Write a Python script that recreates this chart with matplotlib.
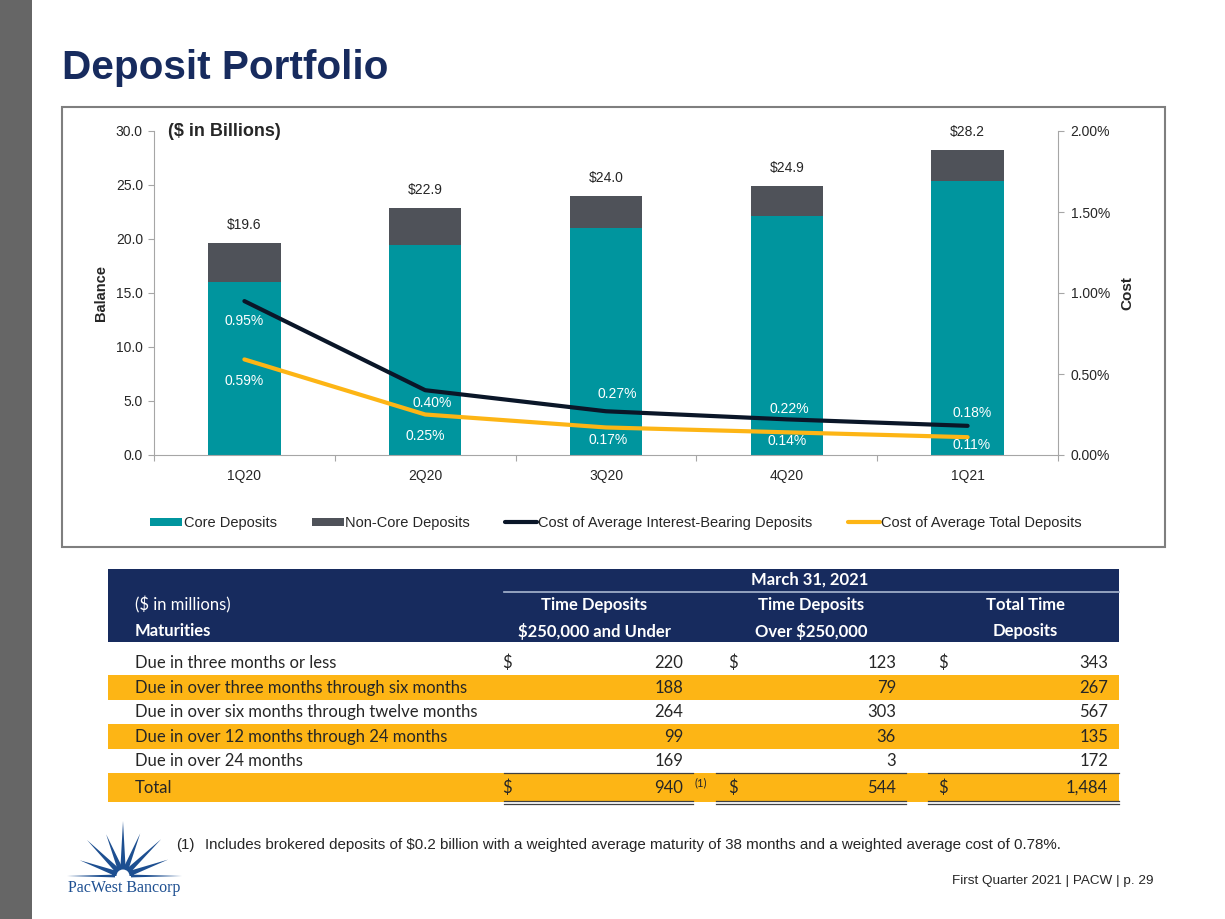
import numpy as np
import matplotlib.pyplot as plt
from matplotlib.patches import Rectangle, Polygon, Wedge
from matplotlib.ticker import FuncFormatter

plt.rcParams['text.parse_math'] = False
plt.rcParams['font.family'] = ['Liberation Sans', 'DejaVu Sans']

# chart data ($ in billions, cost in %)
quarters = ['1Q20', '2Q20', '3Q20', '4Q20', '1Q21']
total_dep = [19.6, 22.9, 24.0, 24.9, 28.2]
core_dep = [16.0, 19.4, 21.0, 22.1, 25.4]
cost_ib = [0.95, 0.40, 0.27, 0.22, 0.18]
cost_total = [0.59, 0.25, 0.17, 0.14, 0.11]

# maturity table ($ in millions)
row_labels = ['Due in three months or less',
              'Due in over three months through six months',
              'Due in over six months through twelve months',
              'Due in over 12 months through 24 months',
              'Due in over 24 months',
              'Total']
under_250k = [220, 188, 264, 99, 169, 940]
over_250k = [123, 79, 303, 36, 3, 544]
total_time = [343, 267, 567, 135, 172, 1484]

TEAL = '#00959e'
SLATE = '#4f5259'
INK = '#0a1628'
GOLD = '#fdb515'
NAVY = '#172b5e'
TXT = '#262626'
AX = '#a6a6a6'

# label nudges (pixels) so the % labels sit as on the slide
ib_off = [(0, -20), (7, -13), (11, 17), (3, 10), (5, 13)]
tot_off = [(0, -22), (0, -21), (2, -13), (0, -9), (4, -8)]

W, H = 1225, 919
fig = plt.figure(figsize=(W / 100, H / 100), dpi=100)

# page decoration in pixel coordinates
bg = fig.add_axes([0, 0, 1, 1], zorder=0)
bg.set_xlim(0, W)
bg.set_ylim(H, 0)
bg.axis('off')
bg.add_patch(Rectangle((0, 0), 32, H, color='#666666', lw=0))
bg.text(62, 79, 'Deposit Portfolio', fontsize=29.2, fontweight='bold',
        color=NAVY, va='baseline', ha='left')
bg.add_patch(Rectangle((62, 107), 1103, 440, fill=False, ec='#7f7f7f', lw=1.5))

# ---- chart ----
x = np.arange(len(quarters))
core = np.array(core_dep)
noncore = np.array(total_dep) - core

ax = fig.add_axes([154 / W, 1 - 455 / H, 904 / W, 324 / H], zorder=2)
ax.set_facecolor('none')
ax.bar(x, core, width=0.4, color=TEAL, label='Core Deposits', zorder=2)
ax.bar(x, noncore, bottom=core, width=0.4, color=SLATE, label='Non-Core Deposits', zorder=2)
ax.set_xlim(-0.5, len(x) - 0.5)
ax.set_ylim(0, 30)
ax.set_yticks(np.arange(0, 31, 5))
ax.yaxis.set_major_formatter(FuncFormatter(lambda v, p: f'{v:.1f}'))
ax.set_xticks(np.arange(-0.5, len(x), 1))
ax.set_xticklabels([])
ax.set_xticks(x, minor=True)
ax.set_xticklabels(quarters, minor=True)
ax.tick_params(axis='x', which='minor', length=0, pad=10, labelsize=10, labelcolor=TXT)
ax.tick_params(axis='x', which='major', length=4, color=AX)
ax.tick_params(axis='y', length=4, color=AX, pad=4, labelsize=10, labelcolor=TXT)
for s in ['top', 'right']:
    ax.spines[s].set_visible(False)
for s in ['left', 'bottom']:
    ax.spines[s].set_color(AX)
ax.set_ylabel('Balance', fontsize=10.5, fontweight='bold', color=TXT)
ax.yaxis.set_label_coords(-0.051, 0.5)
ax.text(0.0155, 30, '($ in Billions)', fontsize=13, fontweight='bold',
        color=TXT, ha='left', va='center', transform=ax.get_yaxis_transform())

for i, t in enumerate(total_dep):
    ax.annotate(f'${t:.1f}', (x[i], t), xytext=(0, 18), textcoords='offset pixels',
                ha='center', va='center', fontsize=10, color=TXT)

ax2 = ax.twinx()
ax2.set_ylim(0, 2.0)
ax2.set_yticks(np.arange(0, 2.01, 0.5))
ax2.yaxis.set_major_formatter(FuncFormatter(lambda v, p: f'{v:.2f}%'))
ax2.tick_params(axis='y', length=4, color=AX, pad=5, labelsize=10, labelcolor=TXT)
for s in ['top', 'left', 'bottom']:
    ax2.spines[s].set_visible(False)
ax2.spines['right'].set_color(AX)
ax2.set_ylabel('Cost', fontsize=11, fontweight='bold', color=TXT)
ax2.yaxis.set_label_coords(1.0686, 0.5)

ax2.plot(x, cost_ib, color=INK, lw=3, solid_capstyle='round',
         label='Cost of Average Interest-Bearing Deposits', zorder=3)
ax2.plot(x, cost_total, color=GOLD, lw=3, solid_capstyle='round',
         label='Cost of Average Total Deposits', zorder=3)
for i in range(len(x)):
    ax2.annotate(f'{cost_ib[i]:.2f}%', (x[i], cost_ib[i]), xytext=ib_off[i],
                 textcoords='offset pixels', ha='center', va='center',
                 fontsize=10, color='white')
    ax2.annotate(f'{cost_total[i]:.2f}%', (x[i], cost_total[i]), xytext=tot_off[i],
                 textcoords='offset pixels', ha='center', va='center',
                 fontsize=10, color='white')

h1, l1 = ax.get_legend_handles_labels()
h2, l2 = ax2.get_legend_handles_labels()
fig.legend(h1 + h2, l1 + l2, loc='center', bbox_to_anchor=(616 / W, 1 - 523 / H),
           ncol=4, frameon=False, fontsize=10.5, handlelength=2.2, handleheight=0.5,
           handletextpad=0.1, columnspacing=2.4, labelcolor=TXT)

# ---- maturity table ----
tf = 'Lato'
tfs = 12
bg.add_patch(Rectangle((108, 569), 1011, 73, color=NAVY, lw=0))
bg.plot([504, 1119], [592, 592], color='#a9b7d0', lw=1.2)
bg.text(810, 580, 'March 31, 2021', family=tf, fontsize=tfs, fontweight='bold',
        color='white', ha='center', va='center')
bg.text(135, 605, '($ in millions)', family=tf, fontsize=tfs, color='white', va='center')
bg.text(135, 631, 'Maturities', family=tf, fontsize=tfs, fontweight='bold',
        color='white', va='center')
col_heads = [(594, 'Time Deposits', '$250,000 and Under'),
             (811, 'Time Deposits', 'Over $250,000'),
             (1025, 'Total Time', 'Deposits')]
for cx, a, b in col_heads:
    bg.text(cx, 605, a, family=tf, fontsize=tfs, fontweight='bold', color='white',
            ha='center', va='center')
    bg.text(cx, 631, b, family=tf, fontsize=tfs, fontweight='bold', color='white',
            ha='center', va='center')

row_y = [663 + 24.6 * i for i in range(5)] + [788]
dollar_x = [502, 728, 938]
right_x = [683, 896, 1108]
seg = [(504, 693), (716, 906), (928, 1119)]
for i, lab in enumerate(row_labels):
    y = row_y[i]
    if i == 5:
        bg.add_patch(Rectangle((108, 773), 1011, 29, color=GOLD, lw=0))
    elif i % 2 == 1:
        bg.add_patch(Rectangle((108, y - 12.5), 1011, 25, color=GOLD, lw=0))
    bg.text(135, y, lab, family=tf, fontsize=tfs, color=TXT, va='center')
    vals = [under_250k[i], over_250k[i], total_time[i]]
    for j, v in enumerate(vals):
        bg.text(right_x[j], y, f'{v:,}', family=tf, fontsize=tfs, color=TXT,
                ha='right', va='center')
        if i in (0, 5):
            bg.text(dollar_x[j], y, '$', family=tf, fontsize=tfs, color=TXT,
                    ha='left', va='center')
for a, b in seg:
    bg.plot([a, b], [773, 773], color='#404040', lw=0.9)
    bg.plot([a, b], [801, 801], color='#404040', lw=0.9)
    bg.plot([a, b], [804, 804], color='#404040', lw=0.9)
bg.text(701, 783, '(1)', family=tf, fontsize=8, color=TXT, ha='center', va='center')

# ---- footnote / footer ----
bg.text(176, 845, '(1)', fontsize=10.9, color=TXT, va='center')
bg.text(205, 845, 'Includes brokered deposits of $0.2 billion with a weighted average '
        'maturity of 38 months and a weighted average cost of 0.78%.',
        fontsize=10.9, color=TXT, va='center')
bg.text(1153, 881, 'First Quarter 2021 | PACW | p. 29', fontsize=9.7, color=TXT,
        ha='right', va='center')

# ---- logo ----
LOGO = '#1d4f91'
cx, cy = 123, 876
rays = [(0, 59), (20, 48), (44, 53), (68, 46), (90, 55), (112, 45), (135, 51),
        (160, 46), (180, 56)]
for ang, ln in rays:
    a = np.deg2rad(ang)
    ux, uy = np.cos(a), -np.sin(a)
    px, py = -uy, ux
    r0, hw = 8, 2.6 if ang not in (0, 180) else 1.4
    base1 = (cx + r0 * ux + hw * px, cy + r0 * uy + hw * py)
    base2 = (cx + r0 * ux - hw * px, cy + r0 * uy - hw * py)
    tip = (cx + ln * ux, cy + ln * uy)
    bg.add_patch(Polygon([base1, tip, base2], closed=True, color=LOGO, lw=0))
bg.add_patch(Wedge((cx, cy), 11, 180, 360, color=LOGO, lw=0))
bg.add_patch(Wedge((cx, cy), 6.5, 180, 360, color='white', lw=0))
bg.text(124, 888, 'PacWest Bancorp', family='Liberation Serif', fontsize=11.5,
        color=LOGO, ha='center', va='center')

fig.savefig('out.png', dpi=100)
